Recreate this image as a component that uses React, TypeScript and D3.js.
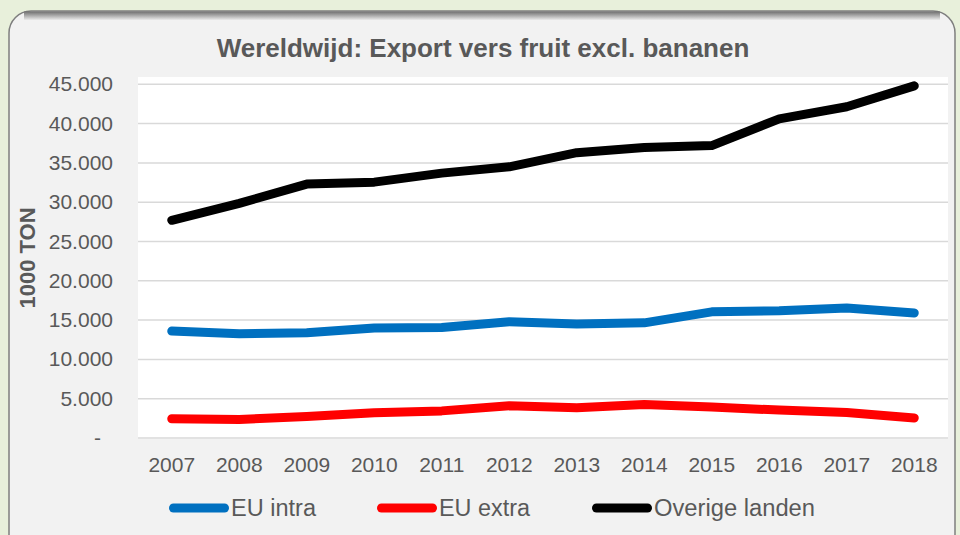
import React, { useEffect, useRef } from 'react';
import * as d3 from 'd3';

const years = ['2007', '2008', '2009', '2010', '2011', '2012', '2013', '2014', '2015', '2016', '2017', '2018'];
const euIntra = [13600, 13250, 13400, 14000, 14050, 14800, 14500, 14650, 16050, 16200, 16550, 15900];
const euExtra = [2450, 2350, 2750, 3200, 3450, 4100, 3850, 4250, 3950, 3550, 3250, 2550];
const overige = [27700, 29850, 32300, 32550, 33700, 34500, 36300, 36950, 37200, 40600, 42150, 44800];
const yTicks = [0, 5000, 10000, 15000, 20000, 25000, 30000, 35000, 40000, 45000];

const seriesList = [
  { name: 'EU intra', values: euIntra, color: '#0070c0' },
  { name: 'EU extra', values: euExtra, color: '#ff0000' },
  { name: 'Overige landen', values: overige, color: '#000000' },
];

const App = () => {
  const ref = useRef<SVGSVGElement>(null);

  useEffect(() => {
    const svg = d3.select(ref.current);
    svg.selectAll('*').remove();
    const W = 960;
    const H = 535;
    const font = '"Liberation Sans", Arial, sans-serif';
    const textColor = '#595959';

    svg.append('rect').attr('width', W).attr('height', H).attr('fill', '#e8f0db');

    // panel shadow + panel
    const defs = svg.append('defs');
    const grad = defs.append('linearGradient').attr('id', 'topShade').attr('x1', 0).attr('y1', 0).attr('x2', 0).attr('y2', 1);
    grad.append('stop').attr('offset', '0%').attr('stop-color', '#6f6f6f');
    grad.append('stop').attr('offset', '100%').attr('stop-color', '#f2f2f2');

    svg.append('rect')
      .attr('x', 9).attr('y', 11).attr('width', 946).attr('height', 560)
      .attr('rx', 22).attr('fill', '#f2f2f2')
      .attr('stroke', '#7f7f7f').attr('stroke-width', 1.5);
    svg.append('rect')
      .attr('x', 24).attr('y', 11.5).attr('width', 916).attr('height', 9)
      .attr('fill', 'url(#topShade)');

    const margin = { top: 77, right: 12, bottom: 97, left: 138 };
    const plotW = W - margin.left - margin.right;

    const x = d3.scaleBand().domain(years).range([margin.left, margin.left + plotW]);
    const y = d3.scaleLinear().domain([0, 46000]).range([438, 438 - 46000 / 5000 * 39.3]);

    svg.append('rect')
      .attr('x', margin.left).attr('y', margin.top)
      .attr('width', plotW).attr('height', 438 - margin.top + 1)
      .attr('fill', '#ffffff');

    // gridlines
    svg.append('g')
      .selectAll('line')
      .data(yTicks)
      .join('line')
      .attr('x1', margin.left).attr('x2', margin.left + plotW)
      .attr('y1', (d) => y(d)).attr('y2', (d) => y(d))
      .attr('stroke', '#d9d9d9').attr('stroke-width', 1.5);

    // y tick labels
    svg.append('g')
      .selectAll('text')
      .data(yTicks)
      .join('text')
      .attr('x', (d) => (d === 0 ? 101 : 113))
      .attr('y', (d) => y(d) + 7)
      .attr('text-anchor', 'end')
      .attr('font-family', font).attr('font-size', 21).attr('fill', textColor)
      .text((d) => (d === 0 ? '-' : d3.format(',')(d).replace(/,/g, '.')));

    // x labels
    svg.append('g')
      .selectAll('text')
      .data(years)
      .join('text')
      .attr('x', (d) => x(d)! + x.bandwidth() / 2)
      .attr('y', 472)
      .attr('text-anchor', 'middle')
      .attr('font-family', font).attr('font-size', 21).attr('fill', textColor)
      .text((d) => d);

    // lines
    const line = d3.line<number>()
      .x((_, i) => x(years[i])! + x.bandwidth() / 2)
      .y((d) => y(d));

    seriesList.forEach((s) => {
      svg.append('path')
        .datum(s.values)
        .attr('d', line)
        .attr('fill', 'none')
        .attr('stroke', s.color)
        .attr('stroke-width', 9)
        .attr('stroke-linecap', 'round')
        .attr('stroke-linejoin', 'round');
    });

    // title
    svg.append('text')
      .attr('x', 483).attr('y', 57)
      .attr('text-anchor', 'middle')
      .attr('font-family', font).attr('font-size', 26).attr('font-weight', 'bold')
      .attr('fill', textColor)
      .text('Wereldwijd: Export vers fruit excl. bananen');

    // y axis title
    svg.append('text')
      .attr('transform', 'translate(35,258) rotate(-90)')
      .attr('text-anchor', 'middle')
      .attr('font-family', font).attr('font-size', 22).attr('font-weight', 'bold')
      .attr('fill', textColor)
      .text('1000 TON');

    // legend
    const legendX = [169, 377, 592];
    const legendTextW = [85, 91, 161];
    seriesList.forEach((s, i) => {
      const g = svg.append('g').attr('transform', `translate(${legendX[i]},508)`);
      g.append('line')
        .attr('x1', 4.5).attr('x2', 55.5)
        .attr('stroke', s.color).attr('stroke-width', 9).attr('stroke-linecap', 'round');
      g.append('text')
        .attr('x', 62).attr('y', 8)
        .attr('font-family', font)
        .attr('font-size', 23).attr('fill', textColor)
        .attr('textLength', legendTextW[i]).attr('lengthAdjust', 'spacingAndGlyphs')
        .text(s.name);
    });
  }, []);

  return <svg ref={ref} width={960} height={535} style={{ position: 'absolute', left: 0, top: 0 }} />;
};

export default App;
